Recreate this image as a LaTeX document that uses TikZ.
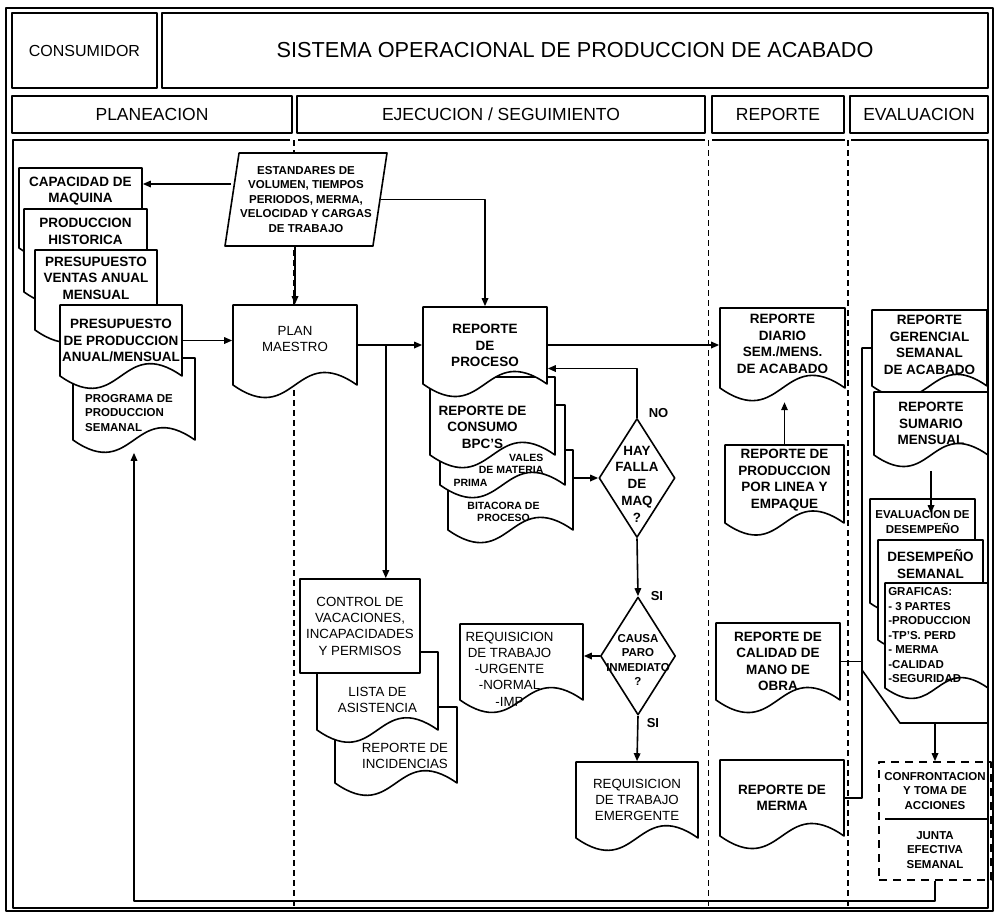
\documentclass[tikz,border=0pt]{standalone}
\usepackage{fontspec}
\setmainfont{Liberation Sans}
\usetikzlibrary{shapes.geometric,arrows.meta,calc,positioning}

% documento con base ondulada: [opciones texto]{nombre}{izq}{arriba}{der}{base}{texto}
\newcommand{\docu}[7][]{%
  \filldraw[fill=white] (#3,#4) -- (#5,#4) -- (#5,#6)
    .. controls ({(#3+#5)/2},{#6-0.35*(#5-#3)}) and ({(#3+#5)/2},{#6+0.35*(#5-#3)}) .. (#3,#6) -- cycle;
  \node[inner sep=0pt, minimum width={#5pt-#3pt}, minimum height={#6pt-#4pt},
    label={[doctext,#1]center:{#7}}] (#2) at ({(#3+#5)/2},{(#4+#6)/2}) {};
}

\begin{document}
\begin{tikzpicture}[x=1pt, y=-1pt, >={Triangle[length=8pt,width=6.5pt]}, line width=1.6pt,
    line join=round,
    doctext/.style={align=center, inner sep=0pt, font=\bfseries\fontsize{13.5}{16.5}\selectfont},
    smalltxt/.style={font=\bfseries\fontsize{11.5}{14.5}\selectfont},
    tinytxt/.style={font=\bfseries\fontsize{10.5}{12.5}\selectfont},
    regtxt/.style={font=\fontsize{13.3}{16.3}\selectfont},
    hdr/.style={draw, inner sep=0pt, font=\fontsize{17.5}{20}\selectfont},
    lane/.style={dash pattern=on 6pt off 4pt},
    dia/.style={diamond, draw, fill=white, inner sep=0pt},
    lbl/.style={inner sep=0pt, font=\bfseries\fontsize{13}{15}\selectfont}]
\useasboundingbox (0,0) rectangle (999,913);

% marco y encabezados
\draw (6,8) rectangle (993,911);
\node[hdr, minimum width=145pt, minimum height=75pt, font=\fontsize{16}{18}\selectfont] (consum) at (84.5,50.5) {CONSUMIDOR};
\node[hdr, minimum width=826pt, minimum height=75pt, font=\fontsize{21.7}{24}\selectfont] (titulo) at (575,50.5) {SISTEMA OPERACIONAL DE PRODUCCION DE ACABADO};
\node[hdr, minimum width=280pt, minimum height=37pt] (hplan) at (152,114.5) {PLANEACION};
\node[hdr, minimum width=408pt, minimum height=37pt] (hejec) at (501,114.5) {EJECUCION / SEGUIMIENTO};
\node[hdr, minimum width=132pt, minimum height=37pt] (hrep) at (778,114.5) {REPORTE};
\node[hdr, minimum width=138pt, minimum height=37pt] (heval) at (919,114.5) {EVALUACION};

% carriles
\draw (290,140) -- (13,140) -- (13,908) -- (988,908) -- (988,140) -- (851,140);
\draw (298,140) -- (705,140);
\draw (712,140) -- (845,140);
\draw[lane] (294,140) -- (294,908);
\draw[lane] (708.5,140) -- (708.5,908);
\draw[lane] (848,140) -- (848,908);

% planeacion
\docu[yshift=17pt]{cap}{19}{168}{142}{248}{CAPACIDAD DE\\MAQUINA}
\docu[yshift=19pt]{hist}{24}{209}{147}{292}{PRODUCCION\\HISTORICA}
\docu[yshift=12pt]{ventas}{35}{250}{157}{330}{PRESUPUESTO\\VENTAS ANUAL\\MENSUAL}
\docu[smalltxt, align=left, xshift=-5pt, yshift=-14pt]{prog}{73}{358}{195}{440}{PROGRAMA DE\\PRODUCCION\\SEMANAL}
\docu{pres}{60}{305}{182}{376}{PRESUPUESTO\\DE PRODUCCION\\ANUAL/MENSUAL}

\node[trapezium, draw, fill=white, trapezium left angle=78, trapezium right angle=102,
  trapezium stretches body, minimum width=162pt, minimum height=93pt, inner sep=0pt,
  align=center, smalltxt] (est) at (306,199.5)
  {ESTANDARES DE\\VOLUMEN, TIEMPOS\\PERIODOS, MERMA,\\VELOCIDAD Y CARGAS\\DE TRABAJO};

% ejecucion / seguimiento
\docu[regtxt, yshift=6pt]{maestro}{233}{305}{357}{385}{PLAN\\MAESTRO}
\docu[tinytxt, xshift=-7pt, yshift=-22pt]{bita}{448}{450}{573}{530}{BITACORA DE\\PROCESO}
\docu[tinytxt, align=right, xshift=-4pt, yshift=-25pt]{vales}{440}{405}{565}{485}{VALES\\DE MATERIA\\PRIMA\hspace*{56pt}}
\docu[xshift=-10pt, yshift=-11pt]{consumo}{430}{377}{555}{455}{REPORTE DE\\CONSUMO\\BPC'S}
\docu{repproc}{423}{307}{547}{384}{REPORTE\\DE\\PROCESO}

\node[dia, minimum width=76pt, minimum height=119pt,
  label={[doctext, font=\bfseries\fontsize{13.4}{16.7}\selectfont, yshift=-6pt]center:{HAY\\FALLA\\DE\\MAQ\\?}}] (hay) at (637,478) {};
\node[dia, minimum width=75pt, minimum height=118pt,
  label={[doctext, smalltxt, yshift=-4pt]center:{CAUSA\\PARO\\INMEDIATO\\?}}] (paro) at (638,656) {};
\node[lbl, anchor=west] (lno) at ([xshift=11pt,yshift=5pt]hay.north) {NO};
\node[lbl, anchor=west] (lsi) at ([xshift=12pt]paro.north) {SI};
\node[lbl, anchor=west] (lsib) at ([xshift=8pt,yshift=-7pt]paro.south) {SI};

\docu[regtxt, xshift=-12pt, yshift=-7pt]{req}{460}{624}{583}{700}{REQUISICION\\DE TRABAJO\\-URGENTE\\-NORMAL\\-IMP}
\docu[regtxt]{emerg}{576}{762}{698}{838}{REQUISICION\\DE TRABAJO\\EMERGENTE}

\docu[regtxt, xshift=9pt, yshift=-11pt]{incid}{335}{707}{457}{783}{REPORTE DE\\INCIDENCIAS}
\docu[regtxt, yshift=-9pt]{lista}{317}{652}{438}{730}{LISTA DE\\ASISTENCIA}
\node[draw, fill=white, inner sep=0pt, minimum width=120pt, minimum height=94pt,
  align=center, regtxt] (ctrl) at (360,626) {CONTROL DE\\VACACIONES,\\INCAPACIDADES\\Y PERMISOS};

% reporte
\docu[yshift=4pt]{diario}{720}{308}{845}{388}{REPORTE\\DIARIO\\SEM./MENS.\\DE ACABADO}
\docu[yshift=4pt]{prodlin}{725}{445}{844}{523}{REPORTE DE\\PRODUCCION\\POR LINEA Y\\EMPAQUE}
\docu{calid}{716}{623}{840}{700}{REPORTE DE\\CALIDAD DE\\MANO DE\\OBRA}
\docu{merma}{720}{760}{844}{836}{REPORTE DE\\MERMA}

% evaluacion
\docu[yshift=3pt]{gere}{872}{310}{987}{386}{REPORTE\\GERENCIAL\\SEMANAL\\DE ACABADO}
\docu{suma}{874}{392}{988}{455}{REPORTE\\SUMARIO\\MENSUAL}
\docu[smalltxt, yshift=29pt]{evald}{870}{499}{975}{603}{EVALUACION DE\\DESEMPEÑO}
\docu[yshift=26pt]{dsem}{878}{540}{983}{640}{DESEMPEÑO\\SEMANAL}
\docu[smalltxt, align=left, xshift=-7pt]{graf}{885}{583}{988}{688}{GRAFICAS:\\- 3 PARTES\\-PRODUCCION\\-TP'S. PERD\\- MERMA\\-CALIDAD\\-SEGURIDAD}

\node[draw, dash pattern=on 8pt off 6pt, minimum width=112pt, minimum height=118pt] (conf) at (935,821) {};
\node[align=center, smalltxt] (conftop) at (935,791) {CONFRONTACION\\Y TOMA DE\\ACCIONES};
\node[align=center, smalltxt] (confbot) at (935,850) {JUNTA\\EFECTIVA\\SEMANAL};
\draw ([xshift=7pt,yshift=2pt]conf.west) -- ([xshift=-4pt,yshift=2pt]conf.east);

% conectores
\draw[->] (est.west |- 0,184) -- (cap.east |- 0,184);
\draw[->] (pres.east) -- (pres.east -| maestro.west);
\draw[->] (maestro.north |- est.south) -- (maestro.north);
\draw[->] (est.east) -| (repproc.north);
\draw[->] (maestro.east) -- (maestro.east -| repproc.west);
\coordinate (split) at ($(maestro.east)+(28,0)$);
\draw[->] (split) -- (split |- ctrl.north);
\draw[->] (split -| repproc.east) -- (split -| diario.west);
\draw[->] (hay.north) |- ($(repproc.east)+(0,23)$);
\draw[->] (hay.west -| bita.east) -- (hay.west);
\draw[->] (hay.south) -- (paro.north);
\draw[->] (paro.west) -- (paro.west -| req.east);
\draw[->] (paro.south) -- (emerg.north);
\draw[->] (prodlin.north) -- ++(0,-42);

\coordinate (fa) at (862,670);
\coordinate (fb) at (900,723);
\coordinate (fc) at (987,723);
\draw (gere.west) -| (fa) -- (fb) -- (fc);
\draw (calid.east) -- (calid.east -| fa);
\draw (merma.east) -| (fa);
\draw[->] ([yshift=-15pt]suma.south) -- ([yshift=-15pt]suma.south |- evald.north);
\draw[->] (fb -| conf.north) -- (conf.north);
\draw[->] (conf.south) -- ++(0,20) -| ([yshift=-12pt]prog.south);
\end{tikzpicture}
\end{document}
